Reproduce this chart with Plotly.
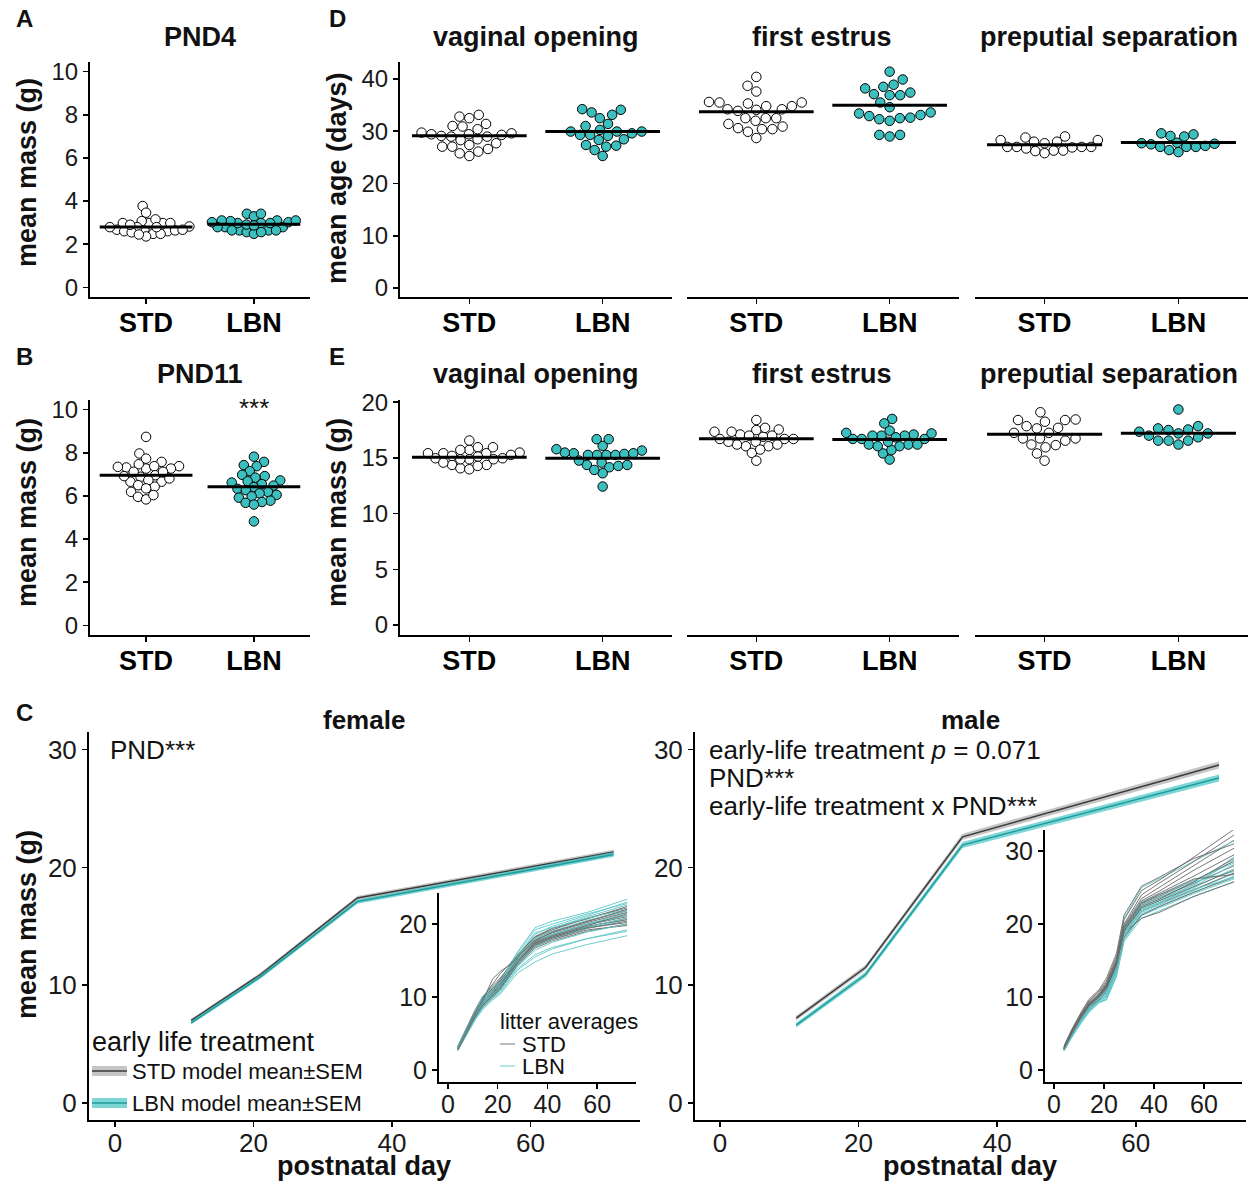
import math
import plotly.graph_objects as go

W, H = 1251, 1181

# ---------------- data ----------------
CATS = ["STD", "LBN"]

PND4_STD = [2.60, 2.70, 2.98, 2.64, 2.48, 2.98, 3.77, 3.07, 2.36, 3.46, 2.79, 2.98, 2.48, 3.15, 2.82, 2.98, 2.67, 2.60, 2.79, 2.67, 2.79, 2.55, 2.90, 2.45]
PND4_LBN = [2.98, 2.64, 3.10, 2.56, 2.98, 2.79, 3.41, 2.64, 3.07, 3.29, 2.79, 2.48, 2.98, 3.41, 3.10, 2.64, 2.79, 3.02, 2.56, 3.10, 2.64, 3.02, 2.91, 2.87]
PND11_STD = [7.27, 6.66, 7.47, 6.89, 7.32, 6.19, 5.96, 7.58, 7.97, 6.81, 6.43, 5.84, 8.74, 7.12, 7.35, 6.66, 6.04, 7.73, 7.38, 6.96, 6.73, 6.50, 7.38, 7.27, 6.92, 6.35, 7.12]
PND11_LBN = [7.82, 7.58, 7.43, 7.38, 7.15, 6.98, 6.92, 6.85, 6.72, 6.68, 6.62, 6.55, 6.48, 6.41, 6.33, 6.27, 6.18, 6.12, 6.05, 5.98, 5.92, 5.78, 5.72, 5.68, 5.60, 4.82]

VO_AGE_STD = [29.42, 29.1, 27.7, 26.6, 30.9, 28.46, 30.38, 33.14, 27.05, 29.6, 32.5, 25.26, 29.3, 31.4, 28.3, 29.74, 27.05, 32.8, 31.0, 28.97, 26.1, 27.37, 28.97, 29.42, 25.77]
VO_AGE_LBN = [29.1, 29.94, 31.0, 29.3, 27.24, 33.6, 29.94, 32.5, 28.33, 34.23, 26.4, 25.26, 34.1, 31.4, 29.3, 27.37, 27.05, 33.14, 29.94, 28.46, 29.6, 30.26]
FE_AGE_STD = [34.8, 35.5, 35.5, 34.1, 34.2, 40.4, 37.6, 38.7, 34.8, 35.6, 33.9, 35.3, 34.2, 32.0, 32.5, 32.5, 32.5, 30.4, 30.9, 29.9, 30.6, 30.4, 31.4, 28.7]
FE_AGE_LBN = [41.4, 39.9, 38.9, 38.2, 38.5, 37.1, 36.9, 37.4, 36.9, 35.5, 34.6, 32.9, 33.4, 32.0, 32.5, 33.1, 32.3, 33.6, 32.6, 29.3, 29.0, 29.3]
PS_AGE_STD = [27.0, 26.3, 28.3, 27.0, 27.7, 26.2, 28.8, 28.0, 25.8, 28.3, 27.0, 26.7, 29.0, 26.3, 27.0, 28.0, 26.9]
PS_AGE_LBN = [27.7, 27.0, 27.2, 29.1, 27.8, 26.4, 29.6, 26.0, 27.6, 29.4, 27.0, 29.0, 27.0, 27.5]

VO_MASS_STD = [15.42, 14.88, 14.97, 15.42, 14.37, 15.72, 14.97, 14.07, 15.96, 15.18, 16.56, 13.98, 15.42, 15.72, 14.88, 14.37, 15.12, 15.96, 14.28, 14.58, 15.48, 14.88, 15.27]
VO_MASS_LBN = [15.42, 15.27, 14.58, 15.66, 14.16, 16.08, 15.27, 16.68, 15.27, 14.37, 13.62, 12.43, 16.68, 15.48, 14.76, 15.78, 13.92, 15.36, 14.28, 15.27, 14.37, 15.42]
FE_MASS_STD = [17.1, 16.45, 16.05, 17.5, 16.7, 17.35, 16.2, 16.9, 15.45, 17.7, 14.75, 17.0, 18.4, 16.45, 17.55, 16.05, 17.35, 15.75, 16.7, 16.2, 16.7, 17.0]
FE_MASS_LBN = [17.1, 16.2, 16.7, 17.25, 16.05, 16.7, 17.45, 16.2, 18.5, 15.4, 17.0, 14.85, 18.1, 17.0, 15.7, 16.45, 16.85, 16.05, 17.2, 16.7, 16.2, 17.0]
PS_MASS_STD = [16.75, 18.4, 16.15, 17.65, 18.45, 17.25, 16.55, 15.4, 17.85, 14.75, 18.4, 16.2, 19.1, 17.7, 16.75, 15.95, 17.25, 16.75, 18.25]
PS_MASS_LBN = [17.2, 16.55, 17.65, 16.55, 17.5, 17.0, 19.35, 16.2, 17.85, 16.85, 17.35, 16.55, 17.55, 17.2]

# group means drawn as horizontal bars  [STD, LBN]
PND4_MEANS = [2.80, 2.92]
PND11_MEANS = [6.96, 6.43]
VO_AGE_MEANS = [29.15, 29.95]
FE_AGE_MEANS = [33.75, 34.95]
PS_AGE_MEANS = [27.4, 27.85]
VO_MASS_MEANS = [15.07, 14.98]
FE_MASS_MEANS = [16.72, 16.65]
PS_MASS_MEANS = [17.12, 17.22]

# growth model (mean +- SEM)
PND_MODEL = [11, 21, 35, 72]
F_STD_MEAN = [7.0, 10.9, 17.4, 21.3]
F_LBN_MEAN = [6.8, 10.7, 17.1, 21.1]
F_SEM = [0.15, 0.16, 0.18, 0.2]
M_STD_MEAN = [7.2, 11.5, 22.6, 28.7]
M_LBN_MEAN = [6.6, 10.9, 21.9, 27.6]
M_SEM = [0.2, 0.22, 0.26, 0.3]

# litter averages
PND_LITTER = [4, 7, 11, 14, 18, 21, 25, 28, 35, 42, 56, 72]
F_STD_LITTERS = [
    [3.0, 5.2, 7.8, 9.4, 10.8, 12.0, 13.8, 15.2, 17.6, 18.6, 20.0, 21.2],
    [2.8, 4.9, 7.4, 9.0, 10.4, 11.5, 13.4, 14.9, 17.2, 18.3, 19.6, 20.8],
    [3.2, 5.4, 8.1, 9.8, 11.2, 12.4, 14.2, 15.6, 18.0, 19.0, 20.4, 21.8],
    [2.9, 5.0, 7.5, 9.1, 10.3, 11.3, 13.1, 14.6, 17.0, 18.0, 19.4, 20.4],
    [3.1, 5.3, 8.0, 9.9, 11.8, 13.2, 14.6, 15.8, 18.2, 19.2, 20.8, 22.2],
    [2.7, 4.7, 7.2, 8.7, 10.0, 11.0, 12.9, 14.3, 16.7, 17.7, 19.0, 20.0],
    [3.0, 5.1, 7.7, 9.3, 10.6, 11.8, 13.6, 15.1, 17.5, 18.5, 19.9, 21.0],
    [3.3, 5.5, 8.3, 10.1, 11.5, 12.6, 14.3, 15.7, 18.3, 19.4, 20.7, 22.4],
    [2.8, 4.8, 7.3, 8.8, 10.1, 11.1, 13.0, 14.5, 16.9, 17.9, 19.2, 19.8],
    [3.0, 5.0, 7.6, 9.2, 10.7, 11.9, 13.7, 15.0, 17.4, 18.4, 19.8, 21.4],
    [3.1, 5.2, 7.9, 9.6, 11.0, 12.2, 13.9, 15.4, 17.8, 18.8, 20.2, 21.6],
    [2.9, 4.9, 7.5, 9.0, 10.5, 11.6, 13.5, 14.8, 17.3, 18.2, 19.7, 20.6],
    [3.0, 5.1, 7.8, 9.5, 12.5, 13.5, 14.4, 15.5, 17.7, 18.9, 20.3, 22.0],
    [2.8, 4.8, 7.4, 8.9, 10.2, 11.2, 13.2, 14.7, 17.1, 18.1, 19.5, 20.2],
]
F_LBN_LITTERS = [
    [3.0, 5.0, 7.6, 9.4, 11.0, 11.8, 13.6, 15.3, 18.2, 19.4, 21.0, 22.6],
    [2.8, 4.7, 7.1, 8.6, 9.9, 10.8, 12.6, 13.9, 15.8, 16.8, 18.0, 19.0],
    [3.2, 5.3, 8.0, 10.0, 11.2, 12.3, 14.5, 16.2, 19.5, 20.4, 21.6, 23.4],
    [2.7, 4.5, 6.9, 8.3, 9.6, 10.4, 12.0, 13.3, 14.8, 15.9, 17.2, 18.4],
    [3.1, 5.2, 7.9, 9.7, 10.9, 12.0, 14.0, 15.6, 18.6, 19.7, 21.2, 23.0],
    [2.9, 4.8, 7.3, 8.9, 10.3, 11.2, 13.0, 14.6, 17.0, 18.0, 19.4, 20.6],
    [3.0, 5.1, 7.7, 9.5, 10.8, 11.7, 13.8, 15.4, 18.0, 19.0, 20.5, 21.8],
    [2.8, 4.6, 7.0, 8.5, 9.8, 10.6, 12.4, 13.7, 15.5, 16.6, 18.0, 19.2],
    [3.3, 5.4, 8.2, 10.1, 11.3, 12.2, 14.4, 16.0, 19.2, 20.0, 21.4, 22.8],
    [2.9, 4.9, 7.5, 9.1, 10.5, 11.4, 13.3, 14.9, 17.4, 18.5, 19.9, 21.2],
    [3.0, 5.0, 7.6, 9.3, 10.6, 11.5, 13.5, 15.1, 17.7, 18.6, 20.0, 21.5],
    [2.7, 4.6, 7.1, 8.7, 10.1, 11.0, 12.8, 14.2, 16.4, 17.5, 18.9, 20.0],
    [3.1, 5.2, 7.8, 9.6, 10.8, 11.9, 13.9, 15.7, 18.8, 19.5, 20.8, 22.0],
    [2.9, 4.8, 7.4, 9.0, 10.4, 11.3, 13.1, 14.5, 16.9, 18.0, 19.6, 20.8],
]
M_STD_LITTERS = [
    [3.0, 5.2, 7.6, 9.2, 10.4, 11.8, 15.0, 19.8, 23.5, 25.0, 28.0, 31.5],
    [2.9, 5.0, 7.3, 8.8, 10.0, 11.4, 14.4, 19.2, 22.6, 23.6, 25.6, 28.0],
    [3.2, 5.4, 7.9, 9.5, 10.8, 12.2, 15.6, 20.6, 24.6, 26.0, 29.2, 33.0],
    [2.8, 4.8, 7.1, 8.6, 9.8, 11.0, 14.0, 18.6, 21.8, 22.8, 24.8, 27.0],
    [3.1, 5.3, 7.7, 9.3, 10.6, 12.0, 15.2, 20.0, 24.0, 25.6, 28.6, 32.2],
    [2.9, 4.9, 7.2, 8.7, 9.9, 11.2, 14.2, 18.8, 20.8, 21.6, 23.8, 25.8],
    [3.0, 5.1, 7.5, 9.0, 10.2, 11.6, 14.7, 19.4, 23.0, 24.2, 26.6, 29.5],
    [3.3, 5.5, 8.0, 9.7, 11.0, 12.6, 16.0, 21.2, 25.2, 26.4, 29.0, 31.0],
    [2.8, 4.8, 7.0, 8.5, 9.6, 10.8, 13.8, 18.2, 21.2, 22.4, 24.4, 26.4],
    [3.0, 5.0, 7.4, 8.9, 10.1, 11.5, 14.6, 19.3, 22.8, 23.8, 26.0, 28.6],
    [3.1, 5.2, 7.6, 9.1, 10.3, 11.7, 14.9, 19.6, 23.2, 24.5, 27.4, 30.4],
    [2.9, 4.9, 7.3, 8.8, 10.0, 11.3, 14.3, 19.0, 22.2, 23.2, 25.2, 27.4],
    [3.0, 5.1, 7.5, 9.0, 10.3, 11.6, 14.8, 19.5, 22.9, 24.0, 26.2, 26.8],
    [2.9, 5.0, 7.4, 8.9, 10.1, 11.4, 14.5, 19.1, 22.4, 23.4, 25.8, 29.0],
]
M_LBN_LITTERS = [
    [2.8, 4.6, 6.8, 8.2, 9.6, 10.0, 13.2, 18.2, 21.6, 22.6, 24.6, 27.0],
    [2.7, 4.5, 6.7, 8.1, 9.4, 9.8, 13.0, 17.8, 21.2, 22.2, 24.2, 26.2],
    [3.0, 4.9, 7.2, 8.7, 10.2, 10.9, 14.6, 20.8, 25.0, 26.2, 28.6, 31.4],
    [2.9, 4.7, 7.0, 8.4, 9.8, 10.4, 13.8, 18.8, 22.0, 23.0, 25.0, 27.6],
    [2.8, 4.6, 6.9, 8.3, 9.5, 10.1, 13.4, 18.4, 21.8, 22.8, 25.2, 28.2],
    [2.6, 4.4, 6.5, 7.9, 9.2, 9.6, 12.8, 17.6, 20.8, 21.8, 23.8, 25.8],
    [2.9, 4.8, 7.1, 8.6, 9.9, 10.6, 14.0, 19.2, 22.4, 23.4, 25.4, 28.8],
    [2.8, 4.7, 6.9, 8.4, 9.7, 10.3, 13.6, 18.6, 22.2, 23.2, 25.4, 29.2],
    [2.7, 4.5, 6.6, 8.0, 9.3, 9.7, 13.1, 18.0, 21.4, 22.4, 24.4, 26.6],
    [2.9, 4.8, 7.0, 8.5, 9.9, 10.5, 13.9, 19.0, 22.6, 23.6, 25.8, 27.2],
    [2.8, 4.6, 6.8, 8.2, 9.5, 10.2, 13.5, 18.5, 21.9, 22.9, 24.8, 26.4],
    [3.0, 4.9, 7.3, 8.8, 10.1, 10.8, 14.2, 19.4, 23.0, 24.0, 26.0, 28.4],
]

# ---------------- styling ----------------
FONT = "Liberation Sans, Arial, Helvetica, sans-serif"
TEAL = "#3cbfbf"
STD_LINE = "#3a3a3a"
STD_RIB = "rgba(140,140,140,0.5)"
LBN_LINE = "#1f9c9c"
LBN_RIB = "rgba(70,195,195,0.7)"
LIT_STD = "rgba(105,105,105,0.9)"
LIT_LBN = "rgba(95,200,200,0.9)"


def fx(p):
    return p / W


def fy(p):
    return 1 - p / H


def swarm(vals, ypx, d):
    """beeswarm x-offsets in pixels"""
    pts = []
    offs = [0.0] * len(vals)
    order = sorted(range(len(vals)), key=lambda i: vals[i])
    for i in order:
        y = vals[i] * ypx
        cands = [0.0]
        for xj, yj in pts:
            dy = abs(yj - y)
            if dy < d:
                dx = math.sqrt(d * d - dy * dy)
                cands += [xj + dx, xj - dx]
        cands.sort(key=lambda c: (abs(c), c))
        chosen = 0.0
        for c in cands:
            if all((c - xj) ** 2 + (y - yj) ** 2 >= d * d - 1e-6 for xj, yj in pts):
                chosen = c
                break
        pts.append((chosen, y))
        offs[i] = chosen
    return offs


common = dict(showline=True, linecolor="black", linewidth=2, ticks="outside", ticklen=5,
              tickwidth=1.5, tickcolor="black", showgrid=False, zeroline=False,
              fixedrange=True, automargin=False)

fig = go.Figure()
layout = {}


def nm(i):
    return "" if i == 1 else str(i)


# (x px, y px, y range, y ticks, STD, LBN, means, show y axis, swarm spacing px)
dot_panels = [
    ((90, 310), (62, 297), [-0.45, 10.45], [0, 2, 4, 6, 8, 10], PND4_STD, PND4_LBN, PND4_MEANS, True, 7.5),
    ((90, 310), (400, 635), [-0.45, 10.45], [0, 2, 4, 6, 8, 10], PND11_STD, PND11_LBN, PND11_MEANS, True, 8.5),
    ((400, 672), (62, 297), [-1.72, 43.25], [0, 10, 20, 30, 40], VO_AGE_STD, VO_AGE_LBN, VO_AGE_MEANS, True, 10),
    ((687, 959), (62, 297), [-1.72, 43.25], [0, 10, 20, 30, 40], FE_AGE_STD, FE_AGE_LBN, FE_AGE_MEANS, False, 10.5),
    ((975, 1248), (62, 297), [-1.72, 43.25], [0, 10, 20, 30, 40], PS_AGE_STD, PS_AGE_LBN, PS_AGE_MEANS, False, 9.5),
    ((400, 672), (400, 635), [-0.9, 20.2], [0, 5, 10, 15, 20], VO_MASS_STD, VO_MASS_LBN, VO_MASS_MEANS, True, 9),
    ((687, 959), (400, 635), [-0.9, 20.2], [0, 5, 10, 15, 20], FE_MASS_STD, FE_MASS_LBN, FE_MASS_MEANS, False, 9),
    ((975, 1248), (400, 635), [-0.9, 20.2], [0, 5, 10, 15, 20], PS_MASS_STD, PS_MASS_LBN, PS_MASS_MEANS, False, 10.5),
]

XR = [0.48, 2.52]
for i, (xp, yp, yr, ytv, std, lbn, means, showy, sd) in enumerate(dot_panels, start=1):
    n = nm(i)
    layout["xaxis" + n] = dict(common, domain=[fx(xp[0]), fx(xp[1])], range=XR, anchor="y" + n,
                               tickmode="array", tickvals=[1, 2],
                               ticktext=["<b>%s</b>" % c for c in CATS], ticklabelstandoff=-4,
                               tickfont=dict(size=27, color="black", family=FONT))
    layout["yaxis" + n] = dict(common, domain=[fy(yp[1]), fy(yp[0])], range=yr, anchor="x" + n,
                               tickmode="array", tickvals=ytv, visible=showy,
                               tickfont=dict(size=24, color="#1a1a1a", family=FONT))
    ppx_x = (xp[1] - xp[0]) / (XR[1] - XR[0])
    ppx_y = (yp[1] - yp[0]) / (yr[1] - yr[0])
    for c, vals, fill, m in [(1, std, "white", means[0]), (2, lbn, TEAL, means[1])]:
        offs = swarm(vals, ppx_y, sd)
        xs = [c + o / ppx_x for o in offs]
        fig.add_trace(go.Scatter(x=xs, y=vals, mode="markers", xaxis="x" + n, yaxis="y" + n,
                                 marker=dict(size=9.5, color=fill, line=dict(color="black", width=1)),
                                 hoverinfo="skip"))
        fig.add_trace(go.Scatter(x=[c - 0.43, c + 0.43], y=[m, m], mode="lines",
                                 xaxis="x" + n, yaxis="y" + n,
                                 line=dict(color="black", width=3), hoverinfo="skip"))

# ---- panel C axes ----
c_axes = [
    (9, (89, 640), (732, 1120), [-3.75, 75.8], [-1.45, 31.5], [0, 10, 20, 30], 26),
    (10, (695, 1246), (732, 1120), [-3.6, 75.9], [-1.45, 31.5], [0, 10, 20, 30], 26),
    (11, (439, 636), (893, 1082), [-3.6, 75.6], [-1.64, 24.25], [0, 10, 20], 25),
    (12, (1045, 1242), (830, 1082), [-3.6, 75.2], [-1.64, 32.9], [0, 10, 20, 30], 25),
]
for i, xp, yp, xr, yr, ytv, fs in c_axes:
    n = nm(i)
    layout["xaxis" + n] = dict(common, domain=[fx(xp[0]), fx(xp[1])], range=xr, anchor="y" + n,
                               tickmode="array", tickvals=[0, 20, 40, 60], ticklabelstandoff=-6,
                               tickfont=dict(size=fs, color="#1a1a1a", family=FONT))
    layout["yaxis" + n] = dict(common, domain=[fy(yp[1]), fy(yp[0])], range=yr, anchor="x" + n,
                               tickmode="array", tickvals=ytv,
                               tickfont=dict(size=fs, color="#1a1a1a", family=FONT))


def ribbon(ax, pnd, mean, sem, rib, col):
    up = [m + s for m, s in zip(mean, sem)]
    lo = [m - s for m, s in zip(mean, sem)]
    fig.add_trace(go.Scatter(x=list(pnd) + list(pnd)[::-1], y=up + lo[::-1], fill="toself",
                             fillcolor=rib, line=dict(width=0), mode="lines",
                             xaxis="x" + ax, yaxis="y" + ax, hoverinfo="skip"))
    fig.add_trace(go.Scatter(x=pnd, y=mean, mode="lines", line=dict(color=col, width=1.5),
                             xaxis="x" + ax, yaxis="y" + ax, hoverinfo="skip"))


ribbon("9", PND_MODEL, F_STD_MEAN, F_SEM, STD_RIB, STD_LINE)
ribbon("9", PND_MODEL, F_LBN_MEAN, F_SEM, LBN_RIB, LBN_LINE)
ribbon("10", PND_MODEL, M_STD_MEAN, M_SEM, STD_RIB, STD_LINE)
ribbon("10", PND_MODEL, M_LBN_MEAN, M_SEM, LBN_RIB, LBN_LINE)


def litters(ax, std_list, lbn_list):
    k = max(len(std_list), len(lbn_list))
    for j in range(k):
        if j < len(lbn_list):
            fig.add_trace(go.Scatter(x=PND_LITTER, y=lbn_list[j], mode="lines",
                                     line=dict(color=LIT_LBN, width=1),
                                     xaxis="x" + ax, yaxis="y" + ax, hoverinfo="skip"))
        if j < len(std_list):
            fig.add_trace(go.Scatter(x=PND_LITTER, y=std_list[j], mode="lines",
                                     line=dict(color=LIT_STD, width=1),
                                     xaxis="x" + ax, yaxis="y" + ax, hoverinfo="skip"))


litters("11", F_STD_LITTERS, F_LBN_LITTERS)
litters("12", M_STD_LITTERS, M_LBN_LITTERS)

# ---------------- annotations ----------------
ann = []


def txt(x, y, s, size, bold=False, xanchor="center", angle=0, color="#111"):
    ann.append(dict(x=fx(x), y=fy(y), xref="paper", yref="paper", text=("<b>%s</b>" % s) if bold else s,
                    showarrow=False, xanchor=xanchor, yanchor="middle", textangle=angle,
                    font=dict(size=size, color=color, family=FONT)))


for s, x, y in [("A", 25, 18), ("B", 25, 356), ("C", 25, 712), ("D", 337, 18), ("E", 337, 356)]:
    txt(x, y, s, 24, bold=True)

txt(200, 37, "PND4", 27, bold=True)
txt(200, 374, "PND11", 27, bold=True)
for yy in (37, 374):
    txt(536, yy, "vaginal opening", 27, bold=True)
    txt(822, yy, "first estrus", 27, bold=True)
    txt(1109, yy, "preputial separation", 27, bold=True)
txt(364, 720, "female", 26, bold=True)
txt(970, 720, "male", 26, bold=True)

txt(27, 173, "mean mass (g)", 27, bold=True, angle=-90)
txt(27, 513, "mean mass (g)", 27, bold=True, angle=-90)
txt(337, 178, "mean age (days)", 27, bold=True, angle=-90)
txt(337, 513, "mean mass (g)", 27, bold=True, angle=-90)
txt(27, 925, "mean mass (g)", 27, bold=True, angle=-90)
txt(364, 1166, "postnatal day", 27, bold=True)
txt(970, 1166, "postnatal day", 27, bold=True)

txt(254, 408, "***", 26)
txt(108, 750, "PND***", 26, xanchor="left")
txt(707, 750, "early-life treatment <i>p</i> = 0.071", 26, xanchor="left")
txt(707, 778, "PND***", 26, xanchor="left")
txt(707, 806, "early-life treatment x PND***", 26, xanchor="left")

txt(90, 1042, "early life treatment", 27, xanchor="left")
txt(130, 1071, "STD model mean±SEM", 22, xanchor="left")
txt(130, 1103, "LBN model mean±SEM", 22, xanchor="left")
txt(498, 1021, "litter averages", 22, xanchor="left")
txt(520, 1044, "STD", 22, xanchor="left")
txt(520, 1066, "LBN", 22, xanchor="left")

shapes = []


def rect(x0, x1, y0, y1, color):
    shapes.append(dict(type="rect", xref="paper", yref="paper", x0=fx(x0), x1=fx(x1),
                       y0=fy(y1), y1=fy(y0), fillcolor=color, line=dict(width=0)))


def hline(x0, x1, y, color, w):
    shapes.append(dict(type="line", xref="paper", yref="paper", x0=fx(x0), x1=fx(x1),
                       y0=fy(y), y1=fy(y), line=dict(color=color, width=w)))


rect(92, 127, 1066, 1076, STD_RIB)
hline(92, 127, 1071, STD_LINE, 1.5)
rect(92, 127, 1098, 1108, LBN_RIB)
hline(92, 127, 1103, LBN_LINE, 1.5)
hline(500, 515, 1044, LIT_STD, 1)
hline(500, 515, 1066, LIT_LBN, 1)

fig.update_layout(**layout)
fig.update_layout(width=W, height=H, margin=dict(l=0, r=0, t=0, b=0), showlegend=False,
                  paper_bgcolor="white", plot_bgcolor="white",
                  font=dict(family=FONT, color="#111"), annotations=ann, shapes=shapes)

fig.write_html("out.html", config={"displayModeBar": False, "staticPlot": True},
               post_script="document.body.style.margin='0';document.body.style.padding='0';"
                           "document.body.style.overflow='hidden';")
